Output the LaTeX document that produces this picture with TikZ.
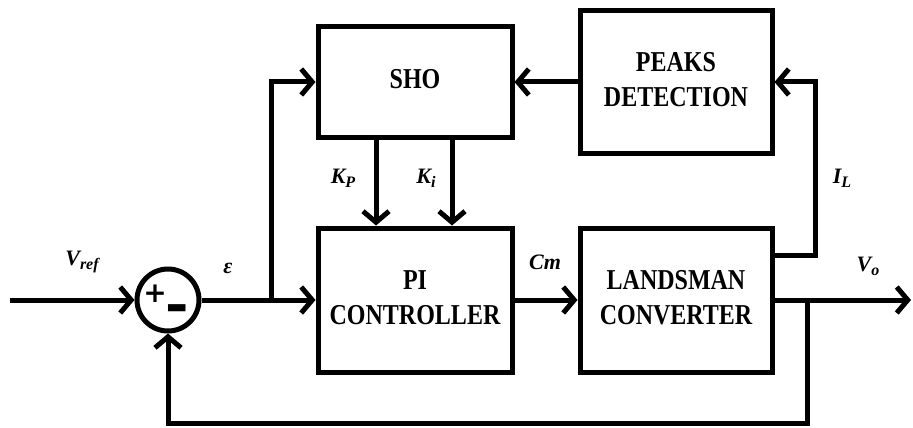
\documentclass[tikz,border=0pt]{standalone}
\usepackage{fontspec}
\usepackage{graphicx}
\setmainfont{Liberation Serif}
\newfontfamily\plusfont{DejaVu Sans}
\usetikzlibrary{arrows.meta}
\newcommand\boxtxt[1]{\scalebox{1}[1.2]{\fontsize{24}{29}\selectfont\bfseries\begin{tabular}{@{}c@{}}#1\end{tabular}}}
\newcommand\lab[1]{\fontsize{22}{24}\selectfont\bfseries\itshape #1}
\newcommand\subs[1]{\raisebox{-4pt}{\fontsize{16}{16}\selectfont\bfseries\itshape #1}}
\begin{document}
\begin{tikzpicture}[x=1pt,y=-1pt,
  line width=5pt,
  >={Straight Barb[length=11pt,width=26pt]},
  blk/.style={draw,line width=5pt,minimum width=194pt,minimum height=144pt,inner sep=0pt},
  sumnode/.style={draw,circle,line width=5pt,minimum size=62pt,inner sep=0pt},
  lbl/.style={inner sep=0pt,font=\lab},
  sign/.style={inner sep=0pt,font=\plusfont\bfseries\fontsize{28}{28}\selectfont}]
\useasboundingbox (0,0) rectangle (913,428);
% blocks
\node[blk,minimum height=110pt] (sho) at (415,82) {\boxtxt{SHO}};
\node[blk,minimum width=192pt,minimum height=143pt] (peaks) at (676,82) {\boxtxt{PEAKS\\DETECTION}};
\node[blk] (pi) at (415,300) {\boxtxt{PI\\CONTROLLER}};
\node[blk,minimum width=192pt] (land) at (676,300) {\boxtxt{LANDSMAN\\CONVERTER}};
\node[sumnode] (sum) at (168,300) {};
\node[sign] (plus) at (155,294) {\scalebox{1}[1]{+}};
\node[sign] (minus) at (177,316) {\scalebox{1}[2.2]{−}};
% coordinates
\coordinate (in) at (10,300);
\coordinate (br) at (271,300);
\coordinate (ilc) at (815,255);
\coordinate (tap) at (807,300);
\coordinate (out) at (911,300);
\coordinate (fb) at (807,423);
% connectors
\draw[->] (in) -- (sum.west);
\draw[->] (sum.east) -- (pi.west);
\draw[->] (br) |- (sho.west);
\draw[->] (peaks.west) -- (sho.east);
\draw[->] ([xshift=-39pt]sho.south) -- ([xshift=-39pt]pi.north);
\draw[->] ([xshift=37pt]sho.south) -- ([xshift=37pt]pi.north);
\draw[->] (pi.east) -- (land.west);
\draw[->] (land.east |- ilc) -- (ilc) |- (peaks.east);
\draw[->] (land.east) -- (out);
\draw[->] (tap) -- (fb) -| (sum.south);
% labels
\node[lbl] (vref) at (82,262) {V\subs{ref}};
\node[lbl] (eps) at (228,268) {ε};
\node[lbl] (kp) at (343,178) {K\subs{P}};
\node[lbl] (ki) at (426,178) {K\subs{i}};
\node[lbl] (cm) at (545,262) {Cm};
\node[lbl] (il) at (842,178) {I\subs{L}};
\node[lbl] (vo) at (868,266) {V\subs{o}};
\end{tikzpicture}
\end{document}
